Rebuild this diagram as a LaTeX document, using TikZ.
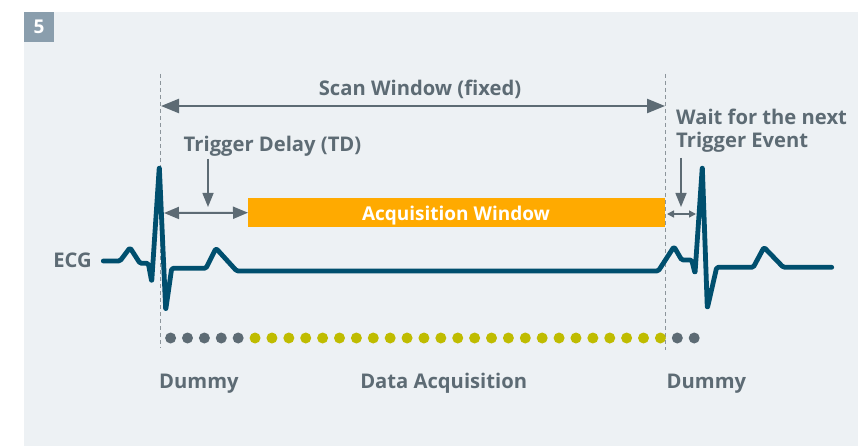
\documentclass[tikz,border=0pt]{standalone}
\usepackage{fontspec}
\setmainfont{Open Sans}
\usetikzlibrary{arrows.meta}
\definecolor{panel}{HTML}{EDF1F4}
\definecolor{badge}{HTML}{8A9EAD}
\definecolor{txt}{HTML}{5D6B74}
\definecolor{ecgc}{HTML}{004F6E}
\definecolor{orng}{HTML}{FFAA00}
\definecolor{yel}{HTML}{BFBC00}
\definecolor{dgray}{HTML}{5D6B74}
\definecolor{dashc}{HTML}{8C959B}
\begin{document}
\begin{tikzpicture}[x=1pt,y=-1pt,
  lbl/.style={text=txt,font=\bfseries\fontsize{20.2}{24}\selectfont,inner sep=0pt},
  guide/.style={draw=dashc,line width=1.3pt,dash pattern=on 4pt off 3pt},
  bigarr/.style={draw=dgray,line width=2.4pt,{Triangle[length=18pt,width=14pt]}-{Triangle[length=18pt,width=14pt]}},
  midarr/.style={draw=dgray,line width=2pt,{Triangle[length=15pt,width=12pt]}-{Triangle[length=15pt,width=12pt]}},
  smallarr/.style={draw=dgray,line width=1.5pt,{Triangle[length=7pt,width=7pt]}-{Triangle[length=7pt,width=7pt]}},
  downarr/.style={draw=dgray,line width=1.5pt,-{Triangle[length=14pt,width=11pt]}},
  ecgline/.style={draw=ecgc,line width=4.8pt,line join=round,line cap=round,rounded corners=1.5pt},
  gdot/.style={circle,fill=dgray,minimum size=11pt,inner sep=0pt},
  ydot/.style={circle,fill=yel,minimum size=11pt,inner sep=0pt}]
\useasboundingbox (0,0) rectangle (858,446);
\fill[panel] (24,12) rectangle (858,446);
\node[fill=badge,minimum width=30pt,minimum height=30pt,inner sep=0pt,text=white,font=\bfseries\fontsize{19}{22}\selectfont] (badge) at (39,27) {5};
% guides
\coordinate (g1t) at (160.5,74);
\coordinate (g1b) at (160.5,348);
\coordinate (g2t) at (665.5,74);
\coordinate (g2b) at (665.5,350);
\draw[guide] (g1t) -- (g1b);
\draw[guide] (g2t) -- (g2b);
% scan window
\node[lbl,anchor=base] (scan) at (420,96) {Scan Window (fixed)};
\coordinate (sL) at (161,106);
\coordinate (sR) at (665,106);
\draw[bigarr] (sL) -- (sR);
% acquisition window
\node[fill=orng,minimum width=417pt,minimum height=29pt,inner sep=0pt,anchor=north west] (acq) at (248,198) {};
\node[text=white,font=\bfseries\fontsize{19}{22}\selectfont,inner sep=0pt,anchor=base] (acqt) at (456,220) {Acquisition Window};
% trigger delay
\node[lbl,anchor=base] (td) at (272.5,152) {Trigger Delay (TD)};
\coordinate (tdA) at (208,159);
\coordinate (tdB) at (208,207);
\draw[downarr] (tdA) -- (tdB);
\coordinate (tdL) at (164,213);
\draw[midarr] (tdL) -- (acq.west);
% wait
\node[lbl,anchor=base west] (wait1) at (676,125) {Wait for the next};
\node[lbl,anchor=base west] (wait2) at (676,148) {Trigger Event};
\coordinate (wA) at (681,158);
\coordinate (wB) at (681,207);
\draw[downarr] (wA) -- (wB);
\coordinate (wL) at (667,214);
\coordinate (wR) at (696,214);
\draw[smallarr] (wL) -- (wR);
% ECG
\node[lbl,anchor=base east] (ecg) at (92,267) {ECG};
\draw[ecgline] (103.3,261) -- (120,261) -- (130,247.7) -- (140,263.3) -- (148.3,263.3)
  -- (151.7,281.7) -- (159.3,166.7) -- (165.7,310) -- (171.7,268.3) -- (206,268.3)
  -- (216,248.3) -- (236.7,271) -- (658.3,271) -- (674,246.7) -- (681.7,260)
  -- (691.7,260) -- (695,273.3) -- (702.3,166.7) -- (707.3,308.3) -- (716.7,267.3)
  -- (753.3,267.3) -- (764,247.3) -- (783.3,267.3) -- (831.7,267.3);
% dots
\foreach \i in {0,...,4} \node[gdot] (d\i) at (170.6+16.89*\i,338) {};
\foreach \i in {5,...,29} \node[ydot] (d\i) at (170.6+16.89*\i,338) {};
\foreach \i in {30,31} \node[gdot] (d\i) at (170.6+16.89*\i,338) {};
% bottom labels
\node[lbl,anchor=base west] (dum1) at (159,388) {Dummy};
\node[lbl,anchor=base] (dacq) at (443.7,388) {Data Acquisition};
\node[lbl,anchor=base west] (dum2) at (666.5,388) {Dummy};
\end{tikzpicture}
\end{document}
